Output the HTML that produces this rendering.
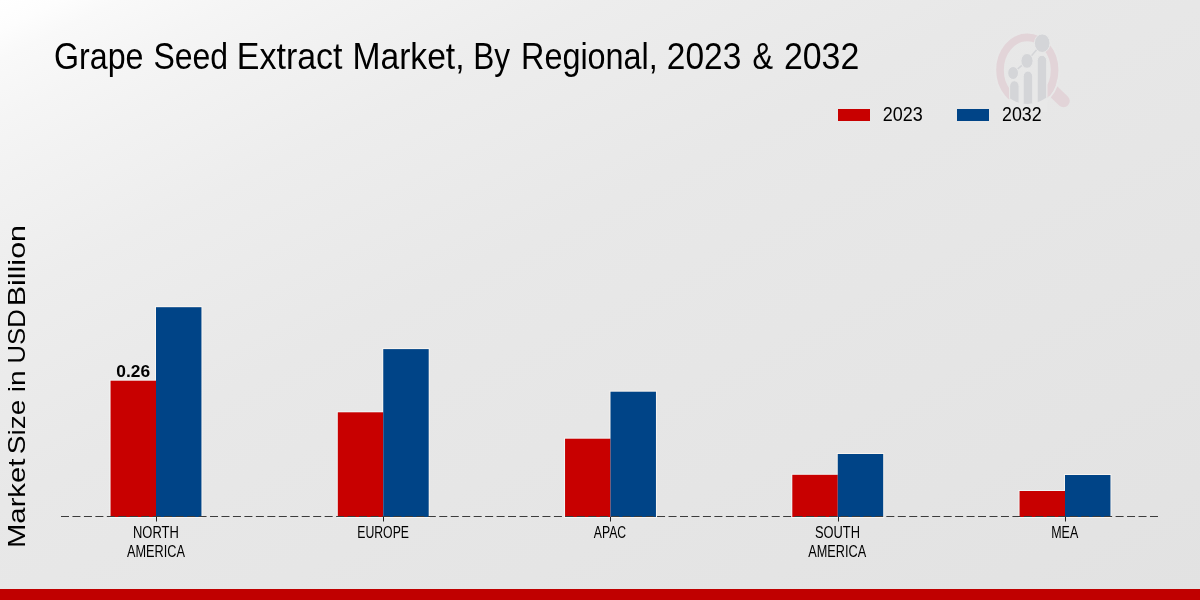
<!DOCTYPE html>
<html>
<head>
<meta charset="utf-8">
<style>
html,body{margin:0;padding:0;}
body{width:1200px;height:600px;overflow:hidden;position:relative;
background:linear-gradient(to bottom right,#ffffff 0%,#fdfdfd 2.5%,#f9f9f9 5%,#f5f5f5 10%,#f2f2f2 15%,#ededed 25%,#eaeaea 35%,#e8e8e8 42%,#e7e7e7 50%,#e6e6e6 60%,#e4e4e4 80%,#e2e2e2 100%);
font-family:"Liberation Sans",sans-serif;}
svg{position:absolute;left:0;top:0;will-change:transform;}
</style>
</head>
<body>
<svg width="1200" height="600" viewBox="0 0 1200 600" font-family="Liberation Sans, sans-serif">
  <!-- watermark -->
  <defs>
    <clipPath id="wmclip"><ellipse cx="1027.5" cy="68" rx="33" ry="36"/></clipPath>
  </defs>
  <g>
    <line x1="1051" y1="89" x2="1063.5" y2="101" stroke="#e2d4d8" stroke-width="12.5" stroke-linecap="round"/>
    <ellipse cx="1027.3" cy="70" rx="32.2" ry="38.2" fill="none" stroke="#e8e8e8" stroke-width="1.8"/>
    <ellipse cx="1027.3" cy="70" rx="27.3" ry="32.6" fill="none" stroke="#e2d4d8" stroke-width="7.6"/>
    <rect x="1009.2" y="80" width="38.2" height="32" fill="#e8e8e8"/>
    <g clip-path="url(#wmclip)" fill="#d4d5d8" stroke="#e8e8e8" stroke-width="1">
      <path d="M1009.6,120 V86.3 A4.75,5.6 0 0 1 1019.1,86.3 V120 Z"/>
      <path d="M1023.2,120 V76.6 A4.75,5.6 0 0 1 1032.7,76.6 V120 Z"/>
      <path d="M1037.2,120 V60.8 A4.75,5.6 0 0 1 1046.7,60.8 V120 Z"/>
    </g>
    <polyline points="1013.1,73 1027,60.9 1042.2,43.2" fill="none" stroke="#d4d5d8" stroke-width="1.5"/>
    <g fill="#d4d5d8" stroke="#e8e8e8" stroke-width="1">
      <ellipse cx="1013.1" cy="73" rx="5.4" ry="6.5"/>
      <ellipse cx="1027" cy="60.9" rx="6.1" ry="7.4"/>
      <ellipse cx="1042.2" cy="43.2" rx="7.8" ry="9.3"/>
    </g>
  </g>

  <!-- title -->
  <g font-size="36" fill="#000">
    <text x="54.01" y="69" textLength="89.44" lengthAdjust="spacingAndGlyphs">Grape</text>
    <text x="153.53" y="69" textLength="74.62" lengthAdjust="spacingAndGlyphs">Seed</text>
    <text x="236.87" y="69" textLength="105.66" lengthAdjust="spacingAndGlyphs">Extract</text>
    <text x="352.50" y="69" textLength="112.03" lengthAdjust="spacingAndGlyphs">Market,</text>
    <text x="473.17" y="69" textLength="36.84" lengthAdjust="spacingAndGlyphs">By</text>
    <text x="521.00" y="69" textLength="136.79" lengthAdjust="spacingAndGlyphs">Regional,</text>
    <text x="666.84" y="69" textLength="74.48" lengthAdjust="spacingAndGlyphs">2023</text>
    <text x="752.44" y="69" textLength="20.57" lengthAdjust="spacingAndGlyphs">&amp;</text>
    <text x="783.92" y="69" textLength="75.35" lengthAdjust="spacingAndGlyphs">2032</text>
  </g>

  <!-- legend -->
  <rect x="838" y="109" width="32" height="12" fill="#c80000"/>
  <text x="882.83" y="121" font-size="19.5" textLength="40.03" lengthAdjust="spacingAndGlyphs" fill="#000">2023</text>
  <rect x="957" y="109" width="32" height="12" fill="#004487"/>
  <text x="1001.99" y="121" font-size="19.5" textLength="39.62" lengthAdjust="spacingAndGlyphs" fill="#000">2032</text>

  <!-- y label -->
  <g font-size="24" fill="#000">
    <text transform="translate(25,548.04) rotate(-90)" textLength="89.48" lengthAdjust="spacingAndGlyphs">Market</text>
    <text transform="translate(25,454.17) rotate(-90)" textLength="54.47" lengthAdjust="spacingAndGlyphs">Size</text>
    <text transform="translate(25,392.33) rotate(-90)" textLength="21.80" lengthAdjust="spacingAndGlyphs">in</text>
    <text transform="translate(25,363.39) rotate(-90)" textLength="54.10" lengthAdjust="spacingAndGlyphs">USD</text>
    <text transform="translate(25,306.29) rotate(-90)" textLength="81.35" lengthAdjust="spacingAndGlyphs">Billion</text>
  </g>

  <!-- bars -->
  <g opacity="0.7">
    <rect x="109.55" y="379.70" width="46.45" height="138.30" fill="#f6fcfc"/>
    <rect x="155.00" y="306.20" width="47.45" height="211.80" fill="#fffaf4"/>
    <rect x="336.80" y="411.30" width="46.45" height="106.70" fill="#f6fcfc"/>
    <rect x="382.25" y="348.10" width="47.45" height="169.90" fill="#fffaf4"/>
    <rect x="564.05" y="437.70" width="46.45" height="80.30" fill="#f6fcfc"/>
    <rect x="609.50" y="390.70" width="47.45" height="127.30" fill="#fffaf4"/>
    <rect x="791.30" y="473.80" width="46.45" height="44.20" fill="#f6fcfc"/>
    <rect x="836.75" y="453.00" width="47.45" height="65.00" fill="#fffaf4"/>
    <rect x="1018.55" y="490.00" width="46.45" height="28.00" fill="#f6fcfc"/>
    <rect x="1064.00" y="474.00" width="47.45" height="44.00" fill="#fffaf4"/>
  </g>
  <g>
    <rect x="110.55" y="380.70" width="45.45" height="136.30" fill="#c80000"/>
    <rect x="156.00" y="307.20" width="45.45" height="209.80" fill="#004487"/>
    <rect x="337.80" y="412.30" width="45.45" height="104.70" fill="#c80000"/>
    <rect x="383.25" y="349.10" width="45.45" height="167.90" fill="#004487"/>
    <rect x="565.05" y="438.70" width="45.45" height="78.30" fill="#c80000"/>
    <rect x="610.50" y="391.70" width="45.45" height="125.30" fill="#004487"/>
    <rect x="792.30" y="474.80" width="45.45" height="42.20" fill="#c80000"/>
    <rect x="837.75" y="454.00" width="45.45" height="63.00" fill="#004487"/>
    <rect x="1019.55" y="491.00" width="45.45" height="26.00" fill="#c80000"/>
    <rect x="1065.00" y="475.00" width="45.45" height="42.00" fill="#004487"/>
  </g>

  <!-- baseline -->
  <line x1="61" y1="516.5" x2="1158.5" y2="516.5" stroke="#3c3c3c" stroke-width="1" stroke-dasharray="8 3.463"/>
  <!-- ticks -->
  <g stroke="#222" stroke-width="1">
    <line x1="156.5" y1="517" x2="156.5" y2="521.5"/>
    <line x1="383.5" y1="517" x2="383.5" y2="521.5"/>
    <line x1="610.5" y1="517" x2="610.5" y2="521.5"/>
    <line x1="838.5" y1="517" x2="838.5" y2="521.5"/>
    <line x1="1065.5" y1="517" x2="1065.5" y2="521.5"/>
  </g>

  <!-- value label -->
  <text x="116.35" y="377" font-size="16.5" font-weight="bold" textLength="33.78" lengthAdjust="spacingAndGlyphs" fill="#000">0.26</text>

  <!-- x labels -->
  <g font-size="16" fill="#000">
    <text x="132.99" y="538" textLength="45.80" lengthAdjust="spacingAndGlyphs">NORTH</text>
    <text x="127.00" y="557.3" textLength="57.93" lengthAdjust="spacingAndGlyphs">AMERICA</text>
    <text x="357.23" y="538" textLength="51.81" lengthAdjust="spacingAndGlyphs">EUROPE</text>
    <text x="593.75" y="538" textLength="32.35" lengthAdjust="spacingAndGlyphs">APAC</text>
    <text x="815.00" y="538" textLength="45.01" lengthAdjust="spacingAndGlyphs">SOUTH</text>
    <text x="808.30" y="557.3" textLength="57.88" lengthAdjust="spacingAndGlyphs">AMERICA</text>
    <text x="1051.22" y="538" textLength="27.02" lengthAdjust="spacingAndGlyphs">MEA</text>
  </g>

  <!-- bottom band -->
  <rect x="0" y="589" width="1200" height="11" fill="#c00000"/>
</svg>
</body>
</html>
